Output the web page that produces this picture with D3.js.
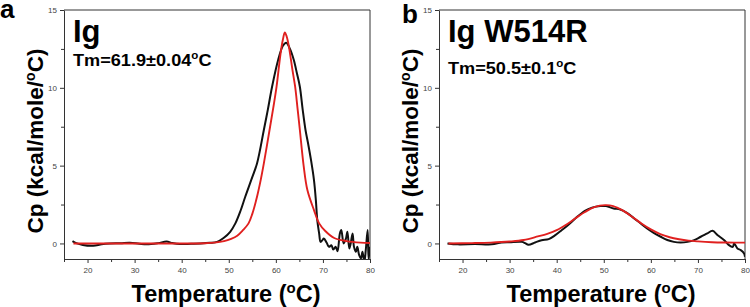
<!DOCTYPE html>
<html><head><meta charset="utf-8">
<script src="https://cdn.jsdelivr.net/npm/d3@7"></script>
<style>
body{margin:0;background:#fff}
svg{display:block}
text{font-family:"Liberation Sans",Arial,Helvetica,sans-serif}
</style>
</head><body>
<svg id="c" width="750" height="307"></svg>
<script>
// ---------- data ----------
const xTicks = [20, 30, 40, 50, 60, 70, 80];
const xMinorTicks = [15, 25, 35, 45, 55, 65, 75];
const yTicks = [0, 5, 10, 15];
const yMinorTicks = [2.5, 7.5, 12.5];
const panelLetters = ["a", "b"];
const panelTitles = ["Ig", "Ig W514R"];
const tmValues = ["61.9", "50.5"];
const tmErrors = ["0.04", "0.1"];

// Ig: measured (black) and fit (red), [temperature °C, Cp]
const igObs = [[16.8,0.15],[17.6,0.02],[19,-0.1],[21.2,-0.15],[23,-0.05],[24.7,0],[27,0.02],[29,0.05],[31,-0.02],[32.6,-0.06],[35,0.02],[36.8,0.12],[38,0.03],[39.6,-0.04],[42,-0.02],[44,0],[46,0.04],[47.5,0.1],[48.9,0.35],[50.3,0.75],[51.4,1.29],[52.5,2.1],[53.5,3.0],[54.8,4.1],[56.0,5.14],[57.45,7.29],[58.3,8.6],[59.2,10.07],[60.5,11.8],[61.5,12.7],[62.2,12.9],[63,12.5],[63.8,11.8],[64.5,10.9],[65.1,10.07],[65.7,8.6],[66.3,7.29],[66.8,6.5],[67.5,5.3],[68.1,4.07],[68.5,2.78],[68.8,1.5],[69.2,0.64],[69.5,0.1],[69.9,0.21],[70.2,0.32],[70.8,0.04],[71.3,-0.22],[71.8,-0.11],[72.2,-0.39],[72.7,-0.22],[73.1,-0.5],[73.6,0.64],[73.9,0.86],[74.4,0],[74.9,0.32],[75.2,0.75],[75.6,-0.32],[75.9,0],[76.3,0.64],[76.6,-0.22],[77.0,-0.54],[77.3,-0.22],[77.7,-0.75],[78.1,-0.96],[78.4,-0.54],[78.8,-1.18],[79.1,-0.43],[79.5,0.86],[79.7,-1.0],[80,-0.22]];
const igFit = [[17,0],[25,0],[35,0],[45,0.01],[47,0.05],[49,0.15],[50.5,0.3],[51.8,0.5],[53,0.85],[54.2,1.29],[55,1.9],[56,3.0],[56.8,4.1],[57.45,5.14],[58.66,7.29],[59.5,8.8],[60.15,10.07],[61,12.2],[61.5,13.1],[61.9,13.55],[62.3,13.3],[62.8,12.6],[63.5,11.2],[64.1,10.07],[64.6,8.7],[65.1,7.29],[65.9,5.0],[66.7,3.43],[68.1,2.14],[69.2,1.29],[70.5,0.8],[72.4,0.35],[75,0.15],[78,0.05],[80,0.03]];

// Ig W514R: measured (black) and fit (red)
const mutObs = [[16.8,0],[19,-0.06],[22.6,-0.04],[26.2,-0.06],[28.3,0.06],[30,0.08],[32.6,0.1],[33.3,0.02],[34,-0.09],[35.4,0.06],[36.8,0.21],[38.3,0.28],[39.7,0.53],[41.1,0.86],[42.5,1.2],[44,1.62],[46,2.1],[47.5,2.3],[49.3,2.4],[50.5,2.4],[52.1,2.25],[53.5,2.18],[55,1.95],[56.4,1.62],[57.8,1.3],[59.2,0.96],[60.6,0.68],[62.1,0.43],[63.5,0.22],[64.9,0.1],[66.3,0.06],[67.8,0.1],[69.2,0.21],[70.6,0.43],[72,0.64],[73.1,0.81],[74.2,0.53],[75.6,0.21],[76.6,-0.11],[77.4,-0.22],[77.7,0],[78.4,-0.32],[79.1,-0.43],[79.8,-0.64],[80,-0.86]];
const mutFit = [[17,0],[22,0.02],[26,0.05],[30,0.12],[33,0.22],[36,0.45],[38,0.62],[40,0.85],[42,1.2],[44,1.62],[46,2.02],[48,2.33],[50.3,2.46],[52,2.4],[54,2.12],[56,1.72],[58,1.28],[60,0.9],[62,0.6],[64,0.4],[66,0.27],[68,0.18],[70,0.13],[73,0.08],[76,0.06],[80,0.05]];

const obsSeries = [igObs, mutObs];
const fitSeries = [igFit, mutFit];

// ---------- drawing ----------
const svg = d3.select("#c");
const W = 306, H = 249;   // plot size
const FONT = '"Liberation Sans",Arial,sans-serif';

[0, 1].forEach(i => {
  const ox = 64 + i * 375, oy = 10;
  const g = svg.append("g").attr("transform", `translate(${ox},${oy})`);
  const x = d3.scaleLinear().domain([15, 80]).range([0, W]);
  const y = d3.scaleLinear().domain([-1, 15]).range([H, 0]);

  g.append("clipPath").attr("id", "clip" + i)
    .append("rect").attr("width", W).attr("height", H);

  // axes
  const ax = g.append("g").attr("transform", `translate(0,${H})`)
    .call(d3.axisBottom(x).tickValues(xTicks).tickSize(4).tickPadding(4).tickSizeOuter(0));
  g.append("g").attr("transform", `translate(0,${H})`)
    .call(d3.axisBottom(x).tickValues(xMinorTicks).tickSize(3).tickFormat("").tickSizeOuter(0))
    .select(".domain").remove();
  const ay = g.append("g")
    .call(d3.axisLeft(y).tickValues(yTicks).tickSize(4).tickPadding(3).tickSizeOuter(0));
  g.append("g")
    .call(d3.axisLeft(y).tickValues(yMinorTicks).tickSize(3).tickFormat("").tickSizeOuter(0))
    .select(".domain").remove();
  g.selectAll(".tick line").attr("stroke", "#333");
  g.selectAll(".domain").attr("stroke", "#333");
  [ax, ay].forEach(a => a.selectAll("text").attr("font-size", 8).attr("fill", "#444").attr("font-family", FONT));

  // frame top/right
  g.append("path").attr("d", `M0,0H${W}V${H}`).attr("fill", "none").attr("stroke", "#333").attr("stroke-width", 1);

  const line = d3.line().x(d => x(d[0])).y(d => y(d[1])).curve(d3.curveCatmullRom.alpha(0.5));
  const pl = g.append("g").attr("clip-path", `url(#clip${i})`);
  pl.append("path").datum(obsSeries[i]).attr("d", line)
    .attr("fill", "none").attr("stroke", "#111").attr("stroke-width", 2).attr("stroke-linejoin", "round");
  pl.append("path").datum(fitSeries[i]).attr("d", line)
    .attr("fill", "none").attr("stroke", "#e0201f").attr("stroke-width", 1.9).attr("stroke-linejoin", "round");

  // in-plot texts
  g.append("text").attr("x", 9).attr("y", 31.5).attr("font-size", 31).attr("font-weight", "bold")
    .attr("fill", "#000").text(panelTitles[i]);
  const tm = g.append("g").attr("transform", `translate(9,${i === 0 ? 55.8 : 63.5}) scale(1.1,1)`)
    .append("text").attr("font-size", 16.5).attr("font-weight", "bold").attr("fill", "#000");
  tm.append("tspan").text("Tm=" + tmValues[i] + "±" + tmErrors[i]);
  tm.append("tspan").attr("font-size", 10.5).attr("dy", -6.5).text("o");
  tm.append("tspan").attr("dy", 6.5).text("C");

  // axis titles
  const xt = svg.append("text").attr("x", 226 + i * 375).attr("y", 301.5)
    .attr("text-anchor", "middle").attr("font-size", 23.5).attr("font-weight", "bold").attr("fill", "#000");
  xt.append("tspan").text("Temperature (");
  xt.append("tspan").attr("font-size", 15).attr("dy", -9).text("o");
  xt.append("tspan").attr("dy", 9).text("C)");

  const yt = svg.append("text").attr("transform", `translate(${43 + i * 375},141) rotate(-90)`)
    .attr("text-anchor", "middle").attr("font-size", 22.5).attr("font-weight", "bold").attr("fill", "#000");
  yt.append("tspan").text("Cp (kcal/mole/");
  yt.append("tspan").attr("font-size", 14).attr("dy", -8.5).text("o");
  yt.append("tspan").attr("dy", 8.5).text("C)");

  // panel letter
  svg.append("text").attr("x", i === 0 ? 0 : 402).attr("y", i === 0 ? 18 : 23)
    .attr("font-size", 26).attr("font-weight", "bold").attr("fill", "#000").text(panelLetters[i]);
});
</script>
</body></html>
